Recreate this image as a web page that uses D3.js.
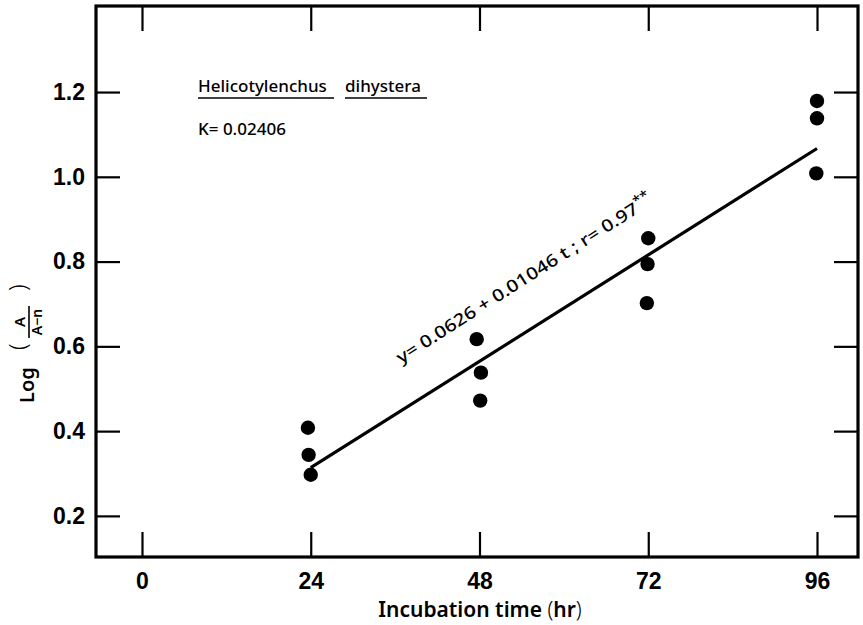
<!DOCTYPE html>
<html>
<head>
<meta charset="utf-8">
<script src="https://cdn.jsdelivr.net/npm/d3@7"></script>
<style>
  body { margin: 0; background: #fff; }
  svg { display: block; font-family: "Noto Sans", sans-serif; }
</style>
</head>
<body>
<svg id="chart" width="863" height="625"></svg>
<script>
// data
var hours = [23.6, 23.7, 24.0, 47.6, 48.2, 48.1, 72.0, 71.9, 71.8, 96.0, 96.0, 95.9];
var logValues = [0.408, 0.344, 0.297, 0.617, 0.538, 0.472, 0.855, 0.794, 0.702, 1.179, 1.138, 1.008];
var xTicks = [0, 24, 48, 72, 96];
var yTicks = [0.2, 0.4, 0.6, 0.8, 1.0, 1.2];
var fitIntercept = 0.0626;
var fitSlope = 0.01046;
var fitRange = [24, 96];

var svg = d3.select("#chart");

var plotLeft = 96, plotRight = 858, plotTop = 6, plotBottom = 557;

var x = d3.scaleLinear()
    .domain([-6.54, 101.83])
    .range([plotLeft, plotRight]);

var y = d3.scaleLinear()
    .domain([0.103, 1.403])
    .range([plotBottom, plotTop]);

function styleAxis(g) {
    g.select(".domain").remove();
    g.selectAll(".tick line").attr("stroke", "#000").attr("stroke-width", 2.2);
    g.selectAll(".tick text")
        .attr("fill", "#000")
        .style("font-size", "23px")
        .style("font-weight", "600");
}

// bottom axis, ticks pointing inward
svg.append("g")
    .attr("transform", "translate(0," + plotBottom + ")")
    .call(d3.axisBottom(x).tickValues(xTicks).tickSize(-25).tickPadding(16)
        .tickFormat(d3.format("d")))
    .call(styleAxis);

// top axis
svg.append("g")
    .attr("transform", "translate(0," + plotTop + ")")
    .call(d3.axisTop(x).tickValues(xTicks).tickSize(-25).tickFormat(""))
    .call(styleAxis);

// left axis
svg.append("g")
    .attr("transform", "translate(" + plotLeft + ",0)")
    .call(d3.axisLeft(y).tickValues(yTicks).tickSize(-24).tickPadding(11)
        .tickFormat(d3.format(".1f")))
    .call(styleAxis);

// right axis
svg.append("g")
    .attr("transform", "translate(" + plotRight + ",0)")
    .call(d3.axisRight(y).tickValues(yTicks).tickSize(-24).tickFormat(""))
    .call(styleAxis);

// frame
svg.append("rect")
    .attr("x", plotLeft)
    .attr("y", plotTop)
    .attr("width", plotRight - plotLeft)
    .attr("height", plotBottom - plotTop)
    .attr("fill", "none")
    .attr("stroke", "#000")
    .attr("stroke-width", 3.2);

// regression line
var line = d3.line()
    .x(function(d) { return x(d); })
    .y(function(d) { return y(fitIntercept + fitSlope * d); });

svg.append("path")
    .datum(fitRange)
    .attr("d", line)
    .attr("fill", "none")
    .attr("stroke", "#000")
    .attr("stroke-width", 3.2);

// points
svg.selectAll(".dot")
    .data(hours)
    .enter().append("circle")
    .attr("class", "dot")
    .attr("cx", function(d) { return x(d); })
    .attr("cy", function(d, i) { return y(logValues[i]); })
    .attr("r", 7.2)
    .attr("fill", "#000");

// equation along the line
var eq = svg.append("text")
    .attr("transform", "translate(401,364) rotate(-32.5)")
    .style("font-size", "17px")
    .style("font-weight", "500")
    .attr("textLength", 300)
    .attr("lengthAdjust", "spacingAndGlyphs");
eq.append("tspan").text("y= 0.0626 + 0.01046 t ; r= 0.97");
eq.append("tspan").attr("dy", -7).style("font-size", "13px").text("**");

// species name and constant
var species = svg.append("text")
    .attr("x", 198)
    .attr("y", 92)
    .style("font-size", "17px")
    .style("font-weight", "500");
species.append("tspan").text("Helicotylenchus");
species.append("tspan").attr("x", 345).text("dihystera");

svg.append("line").attr("x1", 198).attr("x2", 334).attr("y1", 98).attr("y2", 98)
    .attr("stroke", "#000").attr("stroke-width", 1.6);
svg.append("line").attr("x1", 345).attr("x2", 427).attr("y1", 98).attr("y2", 98)
    .attr("stroke", "#000").attr("stroke-width", 1.6);

svg.append("text")
    .attr("x", 198)
    .attr("y", 135)
    .style("font-size", "17px")
    .style("font-weight", "500")
    .text("K= 0.02406");

// x axis title
var xt = svg.append("text")
    .attr("x", 480)
    .attr("y", 617)
    .attr("text-anchor", "middle")
    .style("font-size", "21px")
    .style("font-weight", "600");
xt.append("tspan").text("Incubation time ");
xt.append("tspan").style("font-weight", "300").text("(");
xt.append("tspan").text("hr");
xt.append("tspan").style("font-weight", "300").text(")");

// y axis title: Log ( A / A-n )
var yl = svg.append("g").attr("transform", "translate(34,0) rotate(-90)");
yl.append("text")
    .attr("x", -403)
    .attr("y", 0)
    .style("font-size", "20px")
    .style("font-weight", "600")
    .text("Log");
yl.append("text")
    .attr("x", -350)
    .attr("y", -8)
    .style("font-size", "24px")
    .style("font-weight", "300")
    .text("(");
yl.append("text")
    .attr("x", -291)
    .attr("y", -8)
    .style("font-size", "24px")
    .style("font-weight", "300")
    .text(")");
yl.append("line")
    .attr("x1", -338).attr("x2", -306)
    .attr("y1", -5).attr("y2", -5)
    .attr("stroke", "#000").attr("stroke-width", 1.6);
yl.append("text")
    .attr("x", -322)
    .attr("y", -9)
    .attr("text-anchor", "middle")
    .style("font-size", "15px")
    .style("font-weight", "600")
    .text("A");
yl.append("text")
    .attr("x", -322)
    .attr("y", 8)
    .attr("text-anchor", "middle")
    .style("font-size", "14px")
    .style("font-weight", "600")
    .text("A\u2212n");
</script>
</body>
</html>
